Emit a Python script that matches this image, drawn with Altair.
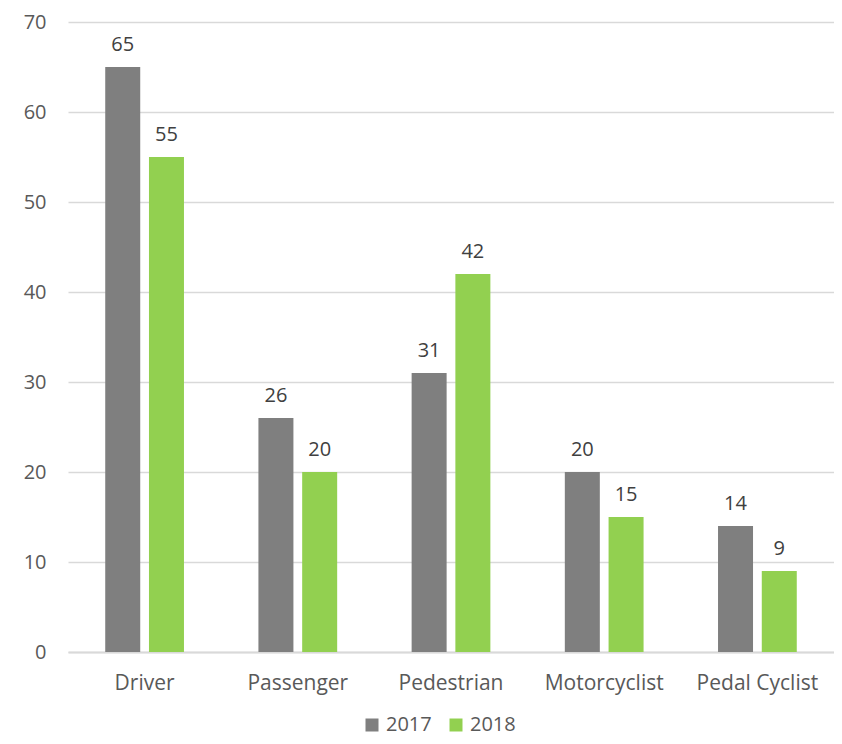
import altair as alt
import pandas as pd

categories = ["Driver", "Passenger", "Pedestrian", "Motorcyclist", "Pedal Cyclist"]
years = ["2017", "2018"]
values_2017 = [65, 26, 31, 20, 14]
values_2018 = [55, 20, 42, 15, 9]

rows = []
for c, a, b in zip(categories, values_2017, values_2018):
    rows.append({"category": c, "year": "2017", "value": a})
    rows.append({"category": c, "year": "2018", "value": b})
df = pd.DataFrame(rows)

FONT = "Open Sans"
FS = 20
x = alt.X("category:N", sort=categories, title=None,
          scale=alt.Scale(paddingInner=0.486, paddingOuter=0.243),
          axis=alt.Axis(labelAngle=0, labelFontSize=21, labelColor="#595959", labelFont=FONT,
                        domainColor="#d9d9d9", domainWidth=2, ticks=False, labelPadding=20, grid=False))
xo = alt.XOffset("year:N", scale=alt.Scale(paddingInner=0.2, paddingOuter=0))
y = alt.Y("value:Q", title=None,
          scale=alt.Scale(domain=[0, 70]),
          axis=alt.Axis(values=list(range(0, 71, 10)), labelFontSize=FS, labelColor="#595959",
                        labelFont=FONT, domain=False, ticks=False, labelPadding=22,
                        gridColor="#d9d9d9", gridWidth=1.3))

base = alt.Chart(df)
bars = base.mark_bar().encode(
    x=x, xOffset=xo, y=y,
    color=alt.Color("year:N", scale=alt.Scale(domain=years, range=["#7f7f7f", "#92d050"]),
                    legend=alt.Legend(title=None, orient="none", direction="horizontal",
                                      legendX=294, legendY=693, symbolType="square",
                                      symbolSize=169, symbolStrokeWidth=0, labelFontSize=FS,
                                      labelColor="#595959", labelFont=FONT, columnPadding=14,
                                      padding=0, labelOffset=4)),
)
labels = base.mark_text(baseline="alphabetic", dy=-16, fontSize=FS, color="#404040", font=FONT).encode(
    x=x, xOffset=xo, y=y, text=alt.Text("value:Q")
)

chart = (bars + labels).properties(
    width=766, height=630,
    padding={"left": 60, "top": 14, "right": 0, "bottom": 84},
    autosize=alt.AutoSizeParams(type="none"),
).configure_view(stroke=None)

chart.save("out.html", embed_options={"renderer": "svg", "actions": False})
